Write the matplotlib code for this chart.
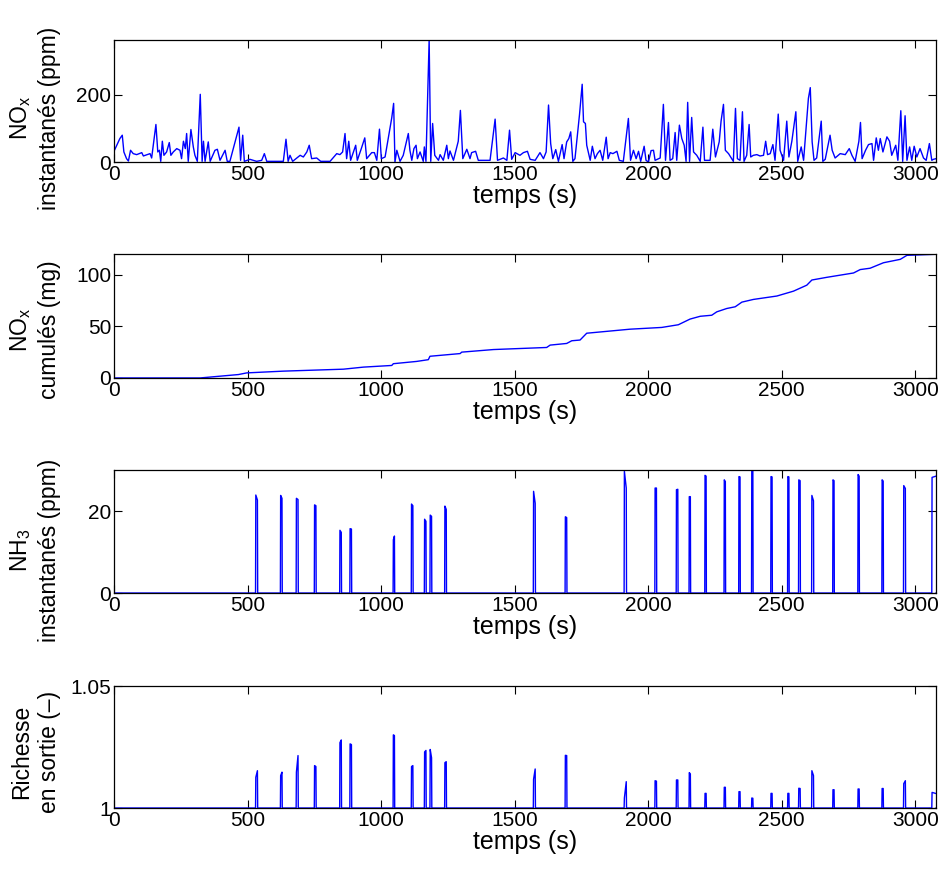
import matplotlib
matplotlib.use('Agg')
import matplotlib.pyplot as plt

plt.rcParams['font.family'] = ['Liberation Sans', 'DejaVu Sans']
plt.rcParams['mathtext.fontset'] = 'custom'
plt.rcParams['mathtext.rm'] = 'Liberation Sans'
plt.rcParams['mathtext.it'] = 'Liberation Sans:italic'

# NOx instantanes (ppm), relevé point par point
nox_t = [0, 22, 31, 37, 47, 54, 62, 72, 85, 104, 110, 135, 141, 157, 164, 170, 175, 181, 187, 197,
         207, 213, 222, 235, 247, 253, 260, 267, 272, 278, 288, 297, 303, 312, 323, 330, 335, 341, 353, 360,
         378, 387, 397, 416, 424, 434, 468, 474, 482, 488, 509, 534, 553, 563, 572, 634, 644, 652, 659, 669,
         697, 709, 722, 731, 740, 759, 774, 809, 834, 846, 856, 865, 871, 879, 886, 905, 911, 926, 939, 946,
         965, 975, 984, 994, 1001, 1015, 1040, 1047, 1052, 1059, 1071, 1083, 1102, 1108, 1115, 1123, 1131, 1136, 1146, 1158,
         1162, 1168, 1180, 1186, 1193, 1201, 1215, 1221, 1233, 1246, 1252, 1258, 1271, 1289, 1297, 1306, 1321, 1333, 1339, 1354,
         1364, 1408, 1427, 1436, 1458, 1471, 1481, 1489, 1502, 1520, 1533, 1548, 1558, 1577, 1595, 1608, 1618, 1627, 1635, 1643,
         1654, 1664, 1678, 1685, 1695, 1703, 1710, 1718, 1726, 1743, 1753, 1758, 1765, 1770, 1783, 1791, 1801, 1810, 1820, 1830,
         1843, 1850, 1858, 1868, 1883, 1892, 1907, 1926, 1934, 1945, 1955, 1964, 1972, 1985, 1992, 2001, 2011, 2020, 2026, 2045,
         2057, 2065, 2076, 2082, 2092, 2101, 2107, 2117, 2126, 2135, 2142, 2148, 2155, 2163, 2170, 2182, 2195, 2205, 2211, 2232,
         2242, 2252, 2266, 2273, 2282, 2289, 2301, 2319, 2327, 2334, 2344, 2353, 2359, 2369, 2378, 2384, 2394, 2407, 2419, 2432,
         2440, 2447, 2457, 2467, 2475, 2487, 2494, 2507, 2519, 2527, 2538, 2544, 2553, 2560, 2573, 2582, 2600, 2607, 2614, 2621,
         2631, 2648, 2654, 2663, 2681, 2689, 2700, 2719, 2738, 2753, 2763, 2775, 2789, 2795, 2801, 2814, 2825, 2838, 2844, 2854,
         2862, 2869, 2879, 2894, 2904, 2912, 2927, 2935, 2946, 2953, 2962, 2969, 2979, 2987, 2996, 3006, 3018, 3031, 3041, 3053,
         3062, 3068, 3078]
nox_v = [32, 70, 80, 30, 10, 3, 35, 25, 22, 28, 18, 25, 12, 112, 30, 35, 2, 62, 20, 30,
         58, 20, 30, 40, 35, 10, 62, 40, 85, 2, 97, 45, 20, 2, 202, 2, 62, 2, 60, 2,
         35, 38, 5, 35, 2, 2, 104, 5, 80, 2, 8, 2, 5, 25, 2, 2, 68, 2, 20, 2,
         20, 15, 30, 50, 10, 12, 2, 2, 25, 22, 30, 85, 10, 62, 5, 50, 5, 40, 72, 10,
         28, 28, 5, 98, 10, 15, 132, 175, 0, 35, 2, 20, 85, 35, 5, 40, 50, 10, 30, 2,
         45, 2, 365, 2, 115, 20, 5, 22, 5, 50, 10, 33, 5, 62, 154, 10, 38, 10, 28, 32,
         5, 5, 128, 5, 12, 5, 95, 8, 28, 20, 28, 32, 8, 5, 28, 10, 30, 170, 55, 10,
         37, 2, 52, 10, 60, 70, 90, 2, 10, 142, 232, 120, 115, 50, 5, 47, 10, 25, 35, 5,
         74, 10, 28, 25, 32, 5, 2, 130, 5, 35, 10, 32, 2, 47, 5, 0, 34, 35, 5, 12,
         172, 5, 118, 5, 10, 88, 5, 110, 70, 50, 2, 178, 2, 133, 30, 20, 2, 104, 5, 5,
         98, 15, 60, 122, 172, 35, 25, 2, 160, 10, 5, 150, 2, 20, 112, 15, 20, 22, 18, 20,
         62, 22, 25, 52, 5, 143, 35, 5, 122, 15, 62, 98, 150, 2, 45, 5, 190, 222, 60, 5,
         12, 122, 2, 8, 80, 35, 12, 25, 22, 40, 20, 2, 62, 118, 10, 35, 52, 55, 5, 72,
         35, 70, 30, 75, 62, 20, 50, 5, 153, 2, 138, 5, 45, 5, 47, 15, 40, 12, 5, 55,
         5, 8, 10]

# NOx cumules (mg)
cum_t = [0, 322, 466, 497, 634, 859, 934, 1040, 1046, 1133, 1177, 1183, 1296, 1302, 1421, 1520, 1620, 1633,
         1695, 1714, 1745, 1770, 1932, 2051, 2113, 2157, 2195, 2238, 2257, 2294, 2326, 2351, 2394, 2482,
         2544, 2594, 2613, 2669, 2769, 2794, 2831, 2881, 2944, 2969, 3078]
cum_v = [0, 0, 3.3, 4.9, 6.6, 8.5, 10.5, 12.1, 13.8, 16, 17.7, 21, 23.6, 25, 27.5, 28.5, 29.5, 31.8,
         33.4, 36, 36.7, 43.3, 47.2, 48.9, 51.5, 57, 59.7, 60.7, 64, 67.2, 68.9, 73.4, 76, 79.3,
         84, 89.8, 94.8, 97.4, 101.6, 104.9, 106.2, 111.5, 114.8, 118.7, 119.7]

# impulsions NH3 / richesse : debut (s), duree (s), valeurs debut et fin d'impulsion
pulse_t = [530, 623, 682, 750, 845, 883, 1045, 1113, 1162, 1183, 1238, 1570, 1689, 1910, 2025,
           2105, 2153, 2212, 2284, 2339, 2387, 2459, 2522, 2563, 2612, 2691, 2785, 2875, 2956, 3062]
pulse_len = [7, 6, 7, 6, 6, 6, 5, 6, 6, 6, 6, 7, 6, 8, 6,
             6, 5, 5, 5, 5, 5, 5, 5, 6, 7, 5, 5, 5, 7, 30]
nh3_a = [23.9, 23.8, 23.1, 21.5, 15.3, 15.7, 13.0, 21.7, 18.0, 19.0, 21.2, 24.8, 18.6, 29.7, 25.6,
         25.2, 23.5, 28.7, 27.6, 28.4, 29.8, 28.4, 28.4, 27.6, 23.8, 27.6, 28.9, 27.6, 26.2, 28.2]
nh3_b = [22.7, 23.1, 22.8, 21.3, 14.8, 15.6, 13.9, 21.3, 17.5, 18.7, 20.4, 21.9, 18.4, 25.6, 25.6,
         25.3, 23.5, 28.5, 27.2, 28.3, 29.8, 28.3, 28.3, 27.4, 22.5, 27.4, 28.5, 27.3, 25.5, 28.8]
rich_a = [1.0126, 1.0133, 1.0147, 1.0174, 1.0268, 1.0263, 1.0300, 1.0170, 1.0230, 1.0240, 1.0186, 1.0118, 1.0216, 1.0041, 1.0112,
          1.0115, 1.0145, 1.0060, 1.0085, 1.0067, 1.0041, 1.0060, 1.0060, 1.0081, 1.0153, 1.0075, 1.0078, 1.0080, 1.0100, 1.0064]
rich_b = [1.0153, 1.0147, 1.0215, 1.0170, 1.0279, 1.0260, 1.0297, 1.0174, 1.0236, 1.0206, 1.0190, 1.0160, 1.0215, 1.0108, 1.0110,
          1.0115, 1.0140, 1.0060, 1.0085, 1.0067, 1.0040, 1.0060, 1.0060, 1.0080, 1.0133, 1.0075, 1.0078, 1.0080, 1.0112, 1.0055]


def pulses(base, va, vb):
    t = [0]
    v = [base]
    for t0, d, a, b in zip(pulse_t, pulse_len, va, vb):
        t += [t0, t0 + 1, t0 + d, t0 + d + 1]
        v += [base, a, b, base]
    t.append(3078)
    v.append(base)
    return t, v


nh3_t, nh3_v = pulses(0, nh3_a, nh3_b)
rich_t, rich_v = pulses(1, rich_a, rich_b)

fig = plt.figure(figsize=(9.46, 8.8), dpi=100)
left, width = 0.1205, 0.869
rects = [[left, 0.8159, width, 0.1386],
         [left, 0.5705, width, 0.1409],
         [left, 0.3261, width, 0.1398],
         [left, 0.0818, width, 0.1386]]

# (x, y, ylim, yticks, yticklabels, ylabel, ylabel centre)
series = [(nox_t, nox_v, (0, 364), [0, 200], ['0', '200'], 'NO$_\\mathrm{x}$\ninstantanés (ppm)', 0.36),
          (cum_t, cum_v, (0, 120), [0, 50, 100], ['0', '50', '100'], 'NO$_\\mathrm{x}$\ncumulés (mg)', 0.39),
          (nh3_t, nh3_v, (0, 30), [0, 20], ['0', '20'], 'NH$_\\mathrm{3}$\ninstantanés (ppm)', 0.35),
          (rich_t, rich_v, (1, 1.05), [1, 1.05], ['1', '1.05'], 'Richesse\nen sortie (–)', 0.46)]

for rect, (t, v, ylim, yt, ytl, lab, ly) in zip(rects, series):
    ax = fig.add_axes(rect)
    ax.plot(t, v, color='#0000ff', lw=1.0)
    ax.set_xlim(0, 3078)
    ax.set_ylim(*ylim)
    ax.set_xticks([0, 500, 1000, 1500, 2000, 2500, 3000])
    ax.set_yticks(yt)
    ax.set_yticklabels(ytl)
    ax.tick_params(direction='in', top=True, right=True, length=6, width=0.8,
                   labelsize=15, pad=2)
    for s in ax.spines.values():
        s.set_linewidth(0.9)
    ax.set_xlabel('temps (s)', fontsize=18, labelpad=0)
    ax.set_ylabel(lab, fontsize=16.5, linespacing=1.3)
    ax.yaxis.set_label_coords(-0.064, ly)

fig.savefig('out.png', dpi=100)
